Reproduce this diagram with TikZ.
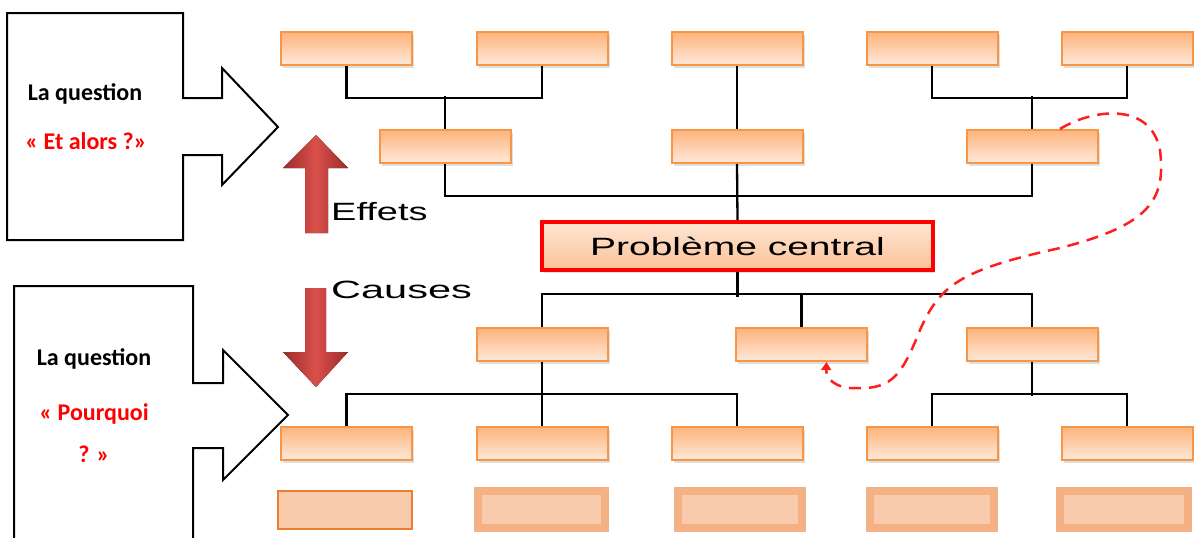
\documentclass[tikz,border=0pt]{standalone}
\usepackage{fontspec}
\setmainfont{Liberation Sans}
\newfontfamily\calfont{Carlito}
\usetikzlibrary{shadows,arrows.meta}
\definecolor{boxborder}{HTML}{F79646}
\definecolor{boxtop}{HTML}{FDB47C}
\definecolor{boxbot}{HTML}{FEE9DA}
\definecolor{pctop}{HTML}{FEE6D3}
\definecolor{pcbot}{HTML}{FBC197}
\definecolor{lowout}{HTML}{F4B183}
\definecolor{lowin}{HTML}{F8CBAD}
\definecolor{lowdark}{HTML}{ED7D31}
\definecolor{arrowdark}{HTML}{9E2B28}
\definecolor{arrowlight}{HTML}{D9504B}
\tikzset{
  obox/.style={draw=boxborder, line width=2pt, top color=boxtop, bottom color=boxbot,
    minimum width=131pt, minimum height=33pt, inner sep=0pt,
    drop shadow={shadow xshift=2pt, shadow yshift=-3pt, opacity=0.25}},
  pcbox/.style={draw=red, line width=4pt, top color=pctop, bottom color=pcbot,
    minimum width=391pt, minimum height=48pt, inner sep=0pt,
    drop shadow={shadow xshift=2pt, shadow yshift=-3pt, opacity=0.25}},
  lowbox/.style={fill=lowout, minimum height=45pt, inner sep=0pt},
  lowinner/.style={fill=lowin},
  conn/.style={line width=2.3pt, black},
  callout/.style={draw=black, line width=2pt, fill=white},
  qtext/.style={font=\calfont\bfseries\fontsize{24}{28}\selectfont, inner sep=0pt},
  bigtext/.style={font=\fontsize{25}{30}\selectfont, inner sep=0pt},
  redarrow/.style={left color=arrowdark, right color=arrowdark, middle color=arrowlight},
  feedback/.style={draw={rgb,255:red,255;green,30;blue,30}, line width=2.5pt, dash pattern=on 12pt off 8pt}
}
\begin{document}
\begin{tikzpicture}[x=1pt,y=-1pt]
\useasboundingbox (0,0) rectangle (1194,538);

% callouts
\draw[callout] (7,13) -- (183,13) -- (183,98) -- (222,98) -- (222,68) -- (278,127)
  -- (222,185) -- (222,155) -- (183,155) -- (183,240) -- (7,240) -- cycle;
\node[qtext, anchor=base] (q1) at (85,100) {La question};
\node[qtext, anchor=base, text=red] (q1b) at (86,149) {« Et alors ?»};

\fill[white] (14,286) rectangle (193,545);
\draw[callout] (14,548) -- (14,286) -- (193,286) -- (193,383) -- (223,383) -- (223,350)
  -- (288,415) -- (223,480) -- (223,448) -- (193,448) -- (193,548);
\node[qtext, anchor=base] (q2) at (94,365) {La question};
\node[qtext, anchor=base, text=red] (q2b) at (94,420) {« Pourquoi};
\node[qtext, anchor=base, text=red] (q2c) at (94,462) {? »};

% red arrows
\fill[redarrow] (305,233) -- (305,168) -- (283,168) -- (316,135) -- (348,168)
  -- (328,168) -- (328,233) -- cycle;
\fill[redarrow] (305,288) -- (305,352) -- (283,352) -- (316,387) -- (348,352)
  -- (326,352) -- (326,288) -- cycle;
\node[bigtext, anchor=base west] (eff) at (331,220) {\scalebox{1.52}[1]{Effets}};
\node[bigtext, anchor=base west] (cau) at (331,298) {\scalebox{1.66}[1]{Causes}};

% effect boxes
\node[obox] (e1) at (346.5,48.5) {};
\node[obox] (e2) at (542,48.5) {};
\node[obox] (e3) at (737,48.5) {};
\node[obox] (e4) at (932,48.5) {};
\node[obox] (e5) at (1127,48.5) {};
\node[obox] (m1) at (445,146.5) {};
\node[obox] (m2) at (737,146.5) {};
\node[obox] (m3) at (1032,146.5) {};

% central problem
\node[pcbox] (pc) at (737.5,246) {\fontsize{25}{30}\selectfont\scalebox{1.56}[1]{Problème central}};

% cause boxes
\node[obox] (c1) at (542,344.5) {};
\node[obox] (c2) at (801.5,344.5) {};
\node[obox] (c3) at (1032,344.5) {};
\node[obox] (d1) at (346.5,443.5) {};
\node[obox] (d2) at (542,443.5) {};
\node[obox] (d3) at (737,443.5) {};
\node[obox] (d4) at (932,443.5) {};
\node[obox] (d5) at (1127,443.5) {};

% connectors (effects)
\draw[conn] (e1.south) -- ++(0,32) -| (e2.south);
\draw[conn] (e4.south) -- ++(0,32) -| (e5.south);
\draw[conn] (m1.north) -- ++(0,-33);
\draw[conn] (m3.north) -- ++(0,-33);
\draw[conn] (m2.north) -- (e3.south);
\draw[conn] (m1.south) -- ++(0,32) -| (m3.south);
\draw[conn] (m2.south) -- (pc.north);
% connectors (causes)
\draw[conn] (c1.north) -- ++(0,-33) -| (c3.north);
\draw[conn] (c2.north) -- ++(0,-33);
\draw[conn] (pc.south) -- ++(0,25);
\draw[conn] (d1.north) -- ++(0,-32) -| (d3.north);
\draw[conn] (c1.south) -- (d2.north);
\draw[conn] (d4.north) -- ++(0,-32) -| (d5.north);
\draw[conn] (c3.south) -- ++(0,34);

% bottom row
\node[fill=lowin, draw=lowdark, line width=2.5pt, minimum width=134pt, minimum height=38pt, inner sep=0pt] (b1) at (345,510) {};
\node[lowbox, minimum width=135pt] (b2) at (541.5,509.5) {};
\node[lowbox, minimum width=132pt] (b3) at (740,509.5) {};
\node[lowbox, minimum width=132pt] (b4) at (932,509.5) {};
\node[lowbox, minimum width=136pt] (b5) at (1124,509.5) {};
\foreach \b in {b2,b3,b4,b5}{
  \fill[lowinner] ([shift={(8,8)}]\b.north west) rectangle ([shift={(-8,-8)}]\b.south east);
}

% feedback dashed curve
\coordinate (fbstart) at ([xshift=28pt]m3.north);
\coordinate (fbend) at ([xshift=25pt]c2.south);
\draw[feedback, -{Triangle[width=10pt,length=8pt]}] (fbstart)
  .. controls (1090,110) and (1150,100) .. (1160,150)
  .. controls (1166,200) and (1150,225) .. (1060,248)
  .. controls (960,270) and (940,285) .. (920,330)
  .. controls (900,380) and (890,390) .. (850,388)
  .. controls (830,386) and (826,375) .. (fbend);
\end{tikzpicture}
\end{document}
